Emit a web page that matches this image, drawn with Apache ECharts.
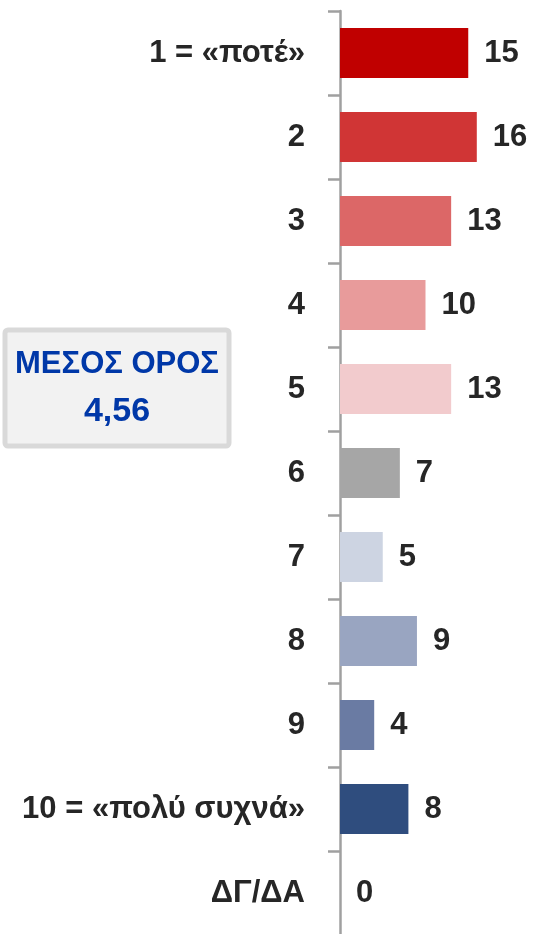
<!DOCTYPE html>
<html>
<head>
<meta charset="utf-8">
<script src="https://cdn.jsdelivr.net/npm/echarts@6/dist/echarts.min.js"></script>
<style>
  html, body { margin: 0; padding: 0; background: #fff; }
  #chart { width: 533px; height: 934px; }
</style>
</head>
<body>
<div id="chart"></div>
<script>
// κατηγορίες και τιμές (%)
const categories = ['1 = «ποτέ»', '2', '3', '4', '5', '6', '7', '8', '9', '10 = «πολύ συχνά»', 'ΔΓ/ΔΑ']
const values = [15, 16, 13, 10, 13, 7, 5, 9, 4, 8, 0]
const barColors = ['#C00000', '#D03535', '#DC6767', '#E89B9B', '#F2CBCD', '#A6A6A6', '#CDD4E2', '#99A5C1', '#6A7BA3', '#2F4D7E', '#2F4D7E']
const meanLabel = 'ΜΕΣΟΣ ΟΡΟΣ'
const meanValue = '4,56'

const font = "'Liberation Sans', Arial, sans-serif"
const chart = echarts.init(document.getElementById('chart'))

chart.setOption({
  animation: false,
  grid: { left: 340, top: 11, width: 171, height: 924, outerBoundsMode: 'none', containLabel: false },
  xAxis: {
    type: 'value',
    min: 0,
    max: 20,
    show: false
  },
  yAxis: {
    type: 'category',
    inverse: true,
    data: categories,
    axisLine: { show: true, lineStyle: { color: '#A0A0A0', width: 2.5 } },
    axisTick: { show: true, length: 12, interval: 0, alignWithLabel: false, lineStyle: { color: '#A0A0A0', width: 2.5 } },
    axisLabel: {
      margin: 35,
      color: '#262626',
      fontFamily: font,
      fontWeight: 'bold',
      fontSize: 31
    }
  },
  series: [
    {
      type: 'bar',
      barWidth: 50,
      data: values.map((v, i) => ({ value: v, itemStyle: { color: barColors[i] } })),
      label: {
        show: true,
        position: 'right',
        distance: 16,
        color: '#262626',
        fontFamily: font,
        fontWeight: 'bold',
        fontSize: 31
      }
    }
  ],
  graphic: [
    {
      type: 'rect',
      shape: { x: 5, y: 330, width: 224, height: 116, r: 3 },
      style: { fill: '#F2F2F2', stroke: '#D9D9D9', lineWidth: 5 }
    },
    {
      type: 'text',
      x: 117,
      y: 364,
      style: {
        text: meanLabel,
        fill: '#0038A8',
        font: 'bold 31px ' + font,
        textAlign: 'center',
        textVerticalAlign: 'middle'
      }
    },
    {
      type: 'text',
      x: 117,
      y: 412,
      style: {
        text: meanValue,
        fill: '#0038A8',
        font: 'bold 34px ' + font,
        textAlign: 'center',
        textVerticalAlign: 'middle'
      }
    }
  ]
})
</script>
</body>
</html>
